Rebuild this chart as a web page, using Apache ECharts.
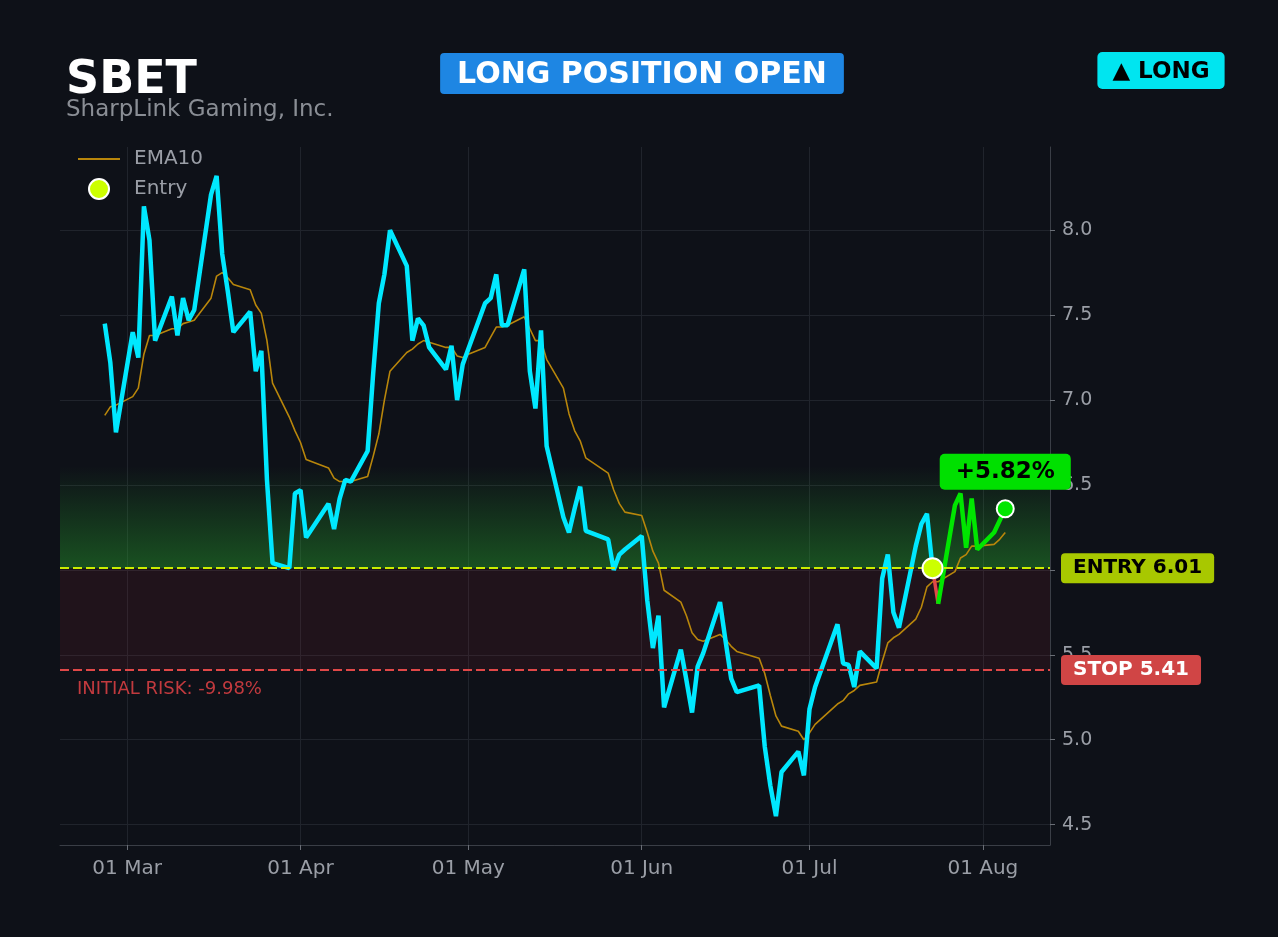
<!DOCTYPE html>
<html>
<head>
<meta charset="utf-8">
<script src="https://cdn.jsdelivr.net/npm/echarts@6/dist/echarts.min.js"></script>
<style>
html,body{margin:0;padding:0;background:#0e1118;}
#chart{width:1278px;height:937px;}
</style>
</head>
<body>
<div id="chart"></div>
<script>
// ---- data ----
const ticker = 'SBET';
const company = 'SharpLink Gaming, Inc.';
const dates = [
  '2026-02-25','2026-02-26','2026-02-27',
  '2026-03-02','2026-03-03','2026-03-04','2026-03-05','2026-03-06','2026-03-09','2026-03-10','2026-03-11','2026-03-12','2026-03-13','2026-03-16','2026-03-17','2026-03-18','2026-03-19','2026-03-20','2026-03-23','2026-03-24','2026-03-25','2026-03-26','2026-03-27','2026-03-30','2026-03-31',
  '2026-04-01','2026-04-02','2026-04-06','2026-04-07','2026-04-08','2026-04-09','2026-04-10','2026-04-13','2026-04-14','2026-04-15','2026-04-16','2026-04-17','2026-04-20','2026-04-21','2026-04-22','2026-04-23','2026-04-24','2026-04-27','2026-04-28','2026-04-29','2026-04-30',
  '2026-05-01','2026-05-04','2026-05-05','2026-05-06','2026-05-07','2026-05-08','2026-05-11','2026-05-12','2026-05-13','2026-05-14','2026-05-15','2026-05-18','2026-05-19','2026-05-20','2026-05-21','2026-05-22','2026-05-26','2026-05-27','2026-05-28','2026-05-29',
  '2026-06-01','2026-06-02','2026-06-03','2026-06-04','2026-06-05','2026-06-08','2026-06-09','2026-06-10','2026-06-11','2026-06-12','2026-06-15','2026-06-16','2026-06-17','2026-06-18','2026-06-22','2026-06-23','2026-06-24','2026-06-25','2026-06-26','2026-06-29','2026-06-30',
  '2026-07-01','2026-07-02','2026-07-06','2026-07-07','2026-07-08','2026-07-09','2026-07-10','2026-07-13','2026-07-14','2026-07-15','2026-07-16','2026-07-17','2026-07-20','2026-07-21','2026-07-22','2026-07-23','2026-07-24','2026-07-27','2026-07-28','2026-07-29','2026-07-30','2026-07-31',
  '2026-08-03','2026-08-04','2026-08-05'
];
const closes = [
  7.45,7.22,6.81,
  7.40,7.25,8.14,7.94,7.35,7.61,7.38,7.60,7.47,7.53,8.21,8.32,7.86,7.64,7.40,7.52,7.17,7.29,6.53,6.04,6.01,6.45,
  6.47,6.19,6.39,6.24,6.42,6.53,6.52,6.70,7.16,7.57,7.74,8.00,7.79,7.35,7.48,7.44,7.31,7.18,7.32,7.00,7.21,
  7.30,7.57,7.60,7.74,7.44,7.44,7.77,7.17,6.95,7.41,6.73,6.31,6.22,6.36,6.49,6.23,6.18,6.00,6.09,6.12,
  6.20,5.82,5.54,5.73,5.19,5.53,5.35,5.16,5.43,5.51,5.81,5.58,5.36,5.28,5.32,4.96,4.73,4.55,4.81,4.93,4.79,
  5.18,5.31,5.68,5.45,5.44,5.31,5.52,5.42,5.95,6.09,5.75,5.66,6.14,6.27,6.33,6.01,5.80,6.38,6.45,6.13,6.42,6.12,
  6.22,6.29,6.36
];
const ema10 = [
  6.91,6.96,6.97,
  7.02,7.07,7.27,7.38,7.38,7.42,7.42,7.45,7.46,7.47,7.60,7.73,7.75,7.72,7.68,7.65,7.56,7.51,7.35,7.10,6.90,6.82,
  6.75,6.65,6.60,6.54,6.52,6.52,6.52,6.55,6.67,6.80,7.00,7.17,7.28,7.30,7.33,7.35,7.34,7.31,7.31,7.26,7.25,
  7.27,7.31,7.37,7.43,7.43,7.44,7.49,7.42,7.35,7.35,7.24,7.07,6.92,6.82,6.76,6.66,6.57,6.47,6.39,6.34,
  6.32,6.22,6.11,6.04,5.88,5.81,5.73,5.63,5.59,5.58,5.62,5.59,5.55,5.52,5.48,5.39,5.26,5.14,5.08,5.05,5.00,
  5.04,5.09,5.21,5.23,5.27,5.29,5.32,5.34,5.46,5.57,5.60,5.62,5.71,5.78,5.90,5.93,5.93,5.99,6.07,6.09,6.14,6.14,
  6.15,6.18,6.22
];
const entryDate = '2026-07-23';
const entryPrice = 6.01;
const stopPrice = 5.41;
const targetPrice = 6.61;
const gainText = '+5.82%';
const riskText = 'INITIAL RISK: -9.98%';
const yTicks = [4.5,5.0,5.5,6.0,6.5,7.0,7.5,8.0];
const monthTicks = ['2026-03-01','2026-04-01','2026-05-01','2026-06-01','2026-07-01','2026-08-01'];
const monthNames = ['Jan','Feb','Mar','Apr','May','Jun','Jul','Aug','Sep','Oct','Nov','Dec'];
const xRange = ['2026-02-17','2026-08-13'];
const yRange = [4.38, 8.49];

// ---- helpers ----
function ts(s){ const p = s.split('-').map(Number); return Date.UTC(p[0], p[1]-1, p[2]); }
const FONT = 'DejaVu Sans';
const entryIdx = dates.indexOf(entryDate);
const pts = dates.map((d,i)=>[ts(d), closes[i]]);
const prePts = pts.slice(0, entryIdx+1);
const lossPts = pts.slice(entryIdx, entryIdx+2);
const postPts = pts.slice(entryIdx+1);
const lastPt = pts[pts.length-1];
const emaPts = dates.map((d,i)=>[ts(d), ema10[i]]);
const monthTs = monthTicks.map(ts);

const chart = echarts.init(document.getElementById('chart'), null, {renderer:'canvas'});
const option = {
  backgroundColor: '#0e1118',
  animation: false,
  textStyle: {fontFamily: FONT},
  grid: {left: 60, right: 228, top: 147, bottom: 92, containLabel: false},
  legend: {
    data: [{name: 'EMA10', itemStyle: {opacity: 0}}, {name: 'Entry'}],
    orient: 'vertical',
    left: 72, top: 144,
    itemWidth: 42, itemHeight: 20, itemGap: 9,
    textStyle: {color: '#9a9ea6', fontSize: 20, fontFamily: FONT, padding: [0,0,0,9]}
  },
  xAxis: {
    type: 'value',
    min: ts(xRange[0]), max: ts(xRange[1]),
    axisLine: {show: true, onZero: false, lineStyle: {color: '#3a3e46'}},
    axisTick: {show: true, length: 5, lineStyle: {color: '#6a6e76'}, customValues: monthTs},
    axisLabel: {
      color: '#9a9ea6', fontSize: 20, fontFamily: FONT, margin: 14,
      customValues: monthTs,
      formatter: function(v){ const d = new Date(v); return String(d.getUTCDate()).padStart(2,'0') + ' ' + monthNames[d.getUTCMonth()]; }
    },
    splitLine: {show: true, lineStyle: {color: '#20242c', width: 1}}
  },
  yAxis: {
    type: 'value',
    position: 'right',
    min: yRange[0], max: yRange[1],
    axisLine: {show: true, lineStyle: {color: '#3a3e46'}},
    axisTick: {show: true, length: 5, lineStyle: {color: '#6a6e76'}, customValues: yTicks},
    axisLabel: {
      color: '#9a9ea6', fontSize: 19, fontFamily: FONT, margin: 12,
      customValues: yTicks,
      formatter: function(v){ return v.toFixed(1); }
    },
    splitLine: {show: true, lineStyle: {color: '#20242c', width: 1}}
  },
  graphic: [
    {type: 'text', left: 66, top: 58, z: 100,
     style: {text: ticker, fill: '#ffffff', font: 'bold 46px "DejaVu Sans"'}},
    {type: 'text', left: 66, top: 99, z: 100,
     style: {text: company, fill: '#8a8e95', font: '23px "DejaVu Sans"'}},
    {type: 'text', x: 642, y: 53, z: 100,
     style: {text: 'LONG POSITION OPEN', fill: '#ffffff', font: 'bold 30px "DejaVu Sans"',
             align: 'center', verticalAlign: 'top', lineHeight: 29,
             backgroundColor: '#1e86e3', padding: [8,17,4,17], borderRadius: 4}},
    {type: 'text', x: 1161, y: 52, z: 100,
     style: {text: '▲ LONG', fill: '#000000', font: 'bold 23px "DejaVu Sans"',
             align: 'center', verticalAlign: 'top', lineHeight: 23,
             backgroundColor: '#00e5f0', padding: [9,15,5,15], borderRadius: 5}}
  ],
  series: [
    {
      name: 'Zones', type: 'line', data: [[ts(entryDate), entryPrice]], symbol: 'none', silent: true,
      lineStyle: {opacity: 0},
      markArea: {
        silent: true,
        data: [
          [{yAxis: stopPrice, itemStyle: {color: 'rgba(200,40,60,0.10)'},
            label: {show: true, position: [17, '100%'], offset: [0, 10], formatter: riskText,
                    color: '#c23a3e', fontSize: 18, fontFamily: FONT}},
           {yAxis: entryPrice}],
          [{yAxis: entryPrice, itemStyle: {color: new echarts.graphic.LinearGradient(0,0,0,1,[
              {offset: 0, color: 'rgba(40,170,45,0.0)'},
              {offset: 1, color: 'rgba(40,170,45,0.42)'}
            ])}, label: {show: false}}, {yAxis: targetPrice}]
        ]
      },
      markLine: {
        silent: true, symbol: 'none', animation: false,
        data: [
          {yAxis: entryPrice,
           lineStyle: {color: '#cbec00', type: [9,4], width: 2.2},
           label: {show: true, position: 'end', distance: 11, formatter: 'ENTRY ' + entryPrice.toFixed(2),
                   color: '#000', fontWeight: 'bold', fontSize: 20, fontFamily: FONT, lineHeight: 20,
                   backgroundColor: '#a8c800', padding: [5,12], borderRadius: 4}},
          {yAxis: stopPrice,
           lineStyle: {color: '#e04848', type: [9,4], width: 2.2},
           label: {show: true, position: 'end', distance: 11, formatter: 'STOP ' + stopPrice.toFixed(2),
                   color: '#fff', fontWeight: 'bold', fontSize: 20, fontFamily: FONT, lineHeight: 20,
                   backgroundColor: '#d04545', padding: [5,12], borderRadius: 4}}
        ]
      }
    },
    {
      name: 'EMA10', type: 'line', data: emaPts, symbol: 'none', showSymbol: false,
      lineStyle: {color: '#b8860b', width: 1.6}, itemStyle: {color: '#b8860b'}, z: 3
    },
    {
      name: 'Price', type: 'line', data: prePts, symbol: 'none', showSymbol: false,
      lineStyle: {color: '#00e8ff', width: 4.5}, itemStyle: {color: '#00e8ff'}, z: 4
    },
    {
      name: 'Loss', type: 'line', data: lossPts, symbol: 'none', showSymbol: false,
      lineStyle: {color: '#e04848', width: 3.5}, z: 4
    },
    {
      name: 'Gain', type: 'line', data: postPts, symbol: 'none', showSymbol: false,
      lineStyle: {color: '#00e600', width: 4.5}, z: 4,
      markPoint: {
        silent: true, symbol: 'circle', symbolSize: 1,
        itemStyle: {color: 'rgba(0,0,0,0)'},
        data: [{coord: lastPt,
                label: {show: true, position: 'inside', offset: [0,-37], formatter: gainText,
                        color: '#000', fontWeight: 'bold', fontSize: 23, fontFamily: FONT, lineHeight: 24,
                        backgroundColor: '#00e000', padding: [6,16], borderRadius: 5}}]
      }
    },
    {
      name: 'Entry', type: 'scatter', data: [[ts(entryDate), entryPrice]], symbol: 'circle', symbolSize: 20,
      itemStyle: {color: '#ccff00', borderColor: '#ffffff', borderWidth: 2, opacity: 1}, z: 6
    },
    {
      name: 'Last', type: 'scatter', data: [lastPt], symbol: 'circle', symbolSize: 17,
      itemStyle: {color: '#00e600', borderColor: '#ffffff', borderWidth: 2, opacity: 1}, z: 6
    }
  ]
};
chart.setOption(option);
</script>
</body>
</html>
